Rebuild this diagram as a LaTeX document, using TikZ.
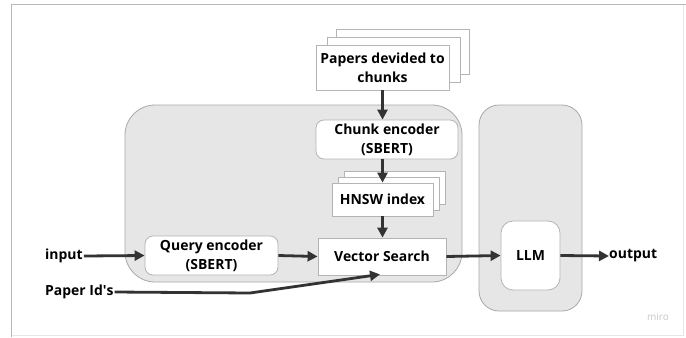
\documentclass[tikz,border=0pt]{standalone}
\usepackage{fontspec}
\setmainfont{Open Sans}
\usetikzlibrary{arrows.meta,calc}
\definecolor{contfill}{HTML}{E6E6E6}
\definecolor{contline}{HTML}{A8A8A8}
\definecolor{boxline}{HTML}{B4B4B4}
\definecolor{ink}{HTML}{333333}
\definecolor{frameA}{HTML}{B8B8B8}
\definecolor{frameB}{HTML}{E6E6E6}
\begin{document}
\begin{tikzpicture}[x=1bp,y=-1bp,
  every node/.style={font=\bfseries\fontsize{14}{19}\selectfont, text=black},
  container/.style={draw=contline, fill=contfill, line width=0.8bp},
  whitebox/.style={draw=boxline, fill=white, line width=0.8bp, align=center, inner sep=0pt},
  roundbox/.style={whitebox, rounded corners=8bp},
  conn/.style={draw=ink, line width=2.8bp, -{Triangle[length=10bp,width=10bp]}},
  lbl/.style={inner sep=0pt}
]
\useasboundingbox (0,0) rectangle (686,337);
\fill[white] (0,0) rectangle (686,337);
% frame
\draw[frameB, line width=0.8bp] (683,4) -- (683,335) -- (11.5,335);
\draw[frameA, line width=1bp] (686,4) -- (11.5,4) -- (11.5,337);
% containers
\draw[container, rounded corners=30bp] (125,105) rectangle (462,282);
\draw[container, rounded corners=20bp] (479,105) rectangle (582,311);
% papers stack
\node[whitebox, minimum width=133bp, minimum height=45bp] (p3) at (402.5,51.5) {};
\node[whitebox, minimum width=133bp, minimum height=45bp] (p2) at (393.5,59.5) {};
\node[whitebox, minimum width=133bp, minimum height=45bp] (papers) at (382.5,67.5) {Papers devided to\\chunks};
% chunk encoder
\node[roundbox, minimum width=142bp, minimum height=39bp] (chunk) at (387,139.5) {Chunk encoder\\(SBERT)};
% HNSW stack
\node[whitebox, minimum width=101bp, minimum height=33bp] (h3) at (394.5,187.5) {};
\node[whitebox, minimum width=101bp, minimum height=33bp] (h2) at (388.5,193.5) {};
\node[whitebox, minimum width=101bp, minimum height=33bp] (hnsw) at (382.5,199.5) {HNSW index};
% vector search
\node[whitebox, minimum width=128bp, minimum height=37bp] (vs) at (382,256.5) {Vector Search};
% query encoder
\node[roundbox, minimum width=133bp, minimum height=39bp] (qe) at (211.5,255.5) {Query encoder\\(SBERT)};
% LLM
\node[whitebox, rounded corners=12bp, minimum width=59bp, minimum height=69bp] (llm) at (530.5,255.5) {LLM};
% labels
\node[lbl, anchor=west] (input) at (45,256) {input};
\node[lbl, anchor=west] (pid) at (45,292) {Paper Id\textquotesingle s};
\node[lbl, anchor=west] (output) at (609,256) {output};
\node[lbl, anchor=center, font=\fontsize{10}{11}\selectfont, text=black!22] (miro) at (658,317) {miro};
% connectors
\coordinate (bend) at (250,293);
\draw[conn] (papers.south) -- (papers.south |- chunk.north);
\draw[conn] (chunk.south -| hnsw.north) -- (hnsw.north);
\draw[conn] (hnsw.south) -- (vs.north -| hnsw.south);
\draw[conn] (input.east) ++(1,0) -- (qe.west);
\draw[conn] (qe.east) -- (vs.west);
\draw[conn] (vs.east) -- (llm.west);
\draw[conn] (llm.east) -- (output.west);
\draw[conn] (pid.east) ++(1,0) -- (bend) -- ($(vs.south)+(-2,-1)$);
\end{tikzpicture}
\end{document}
